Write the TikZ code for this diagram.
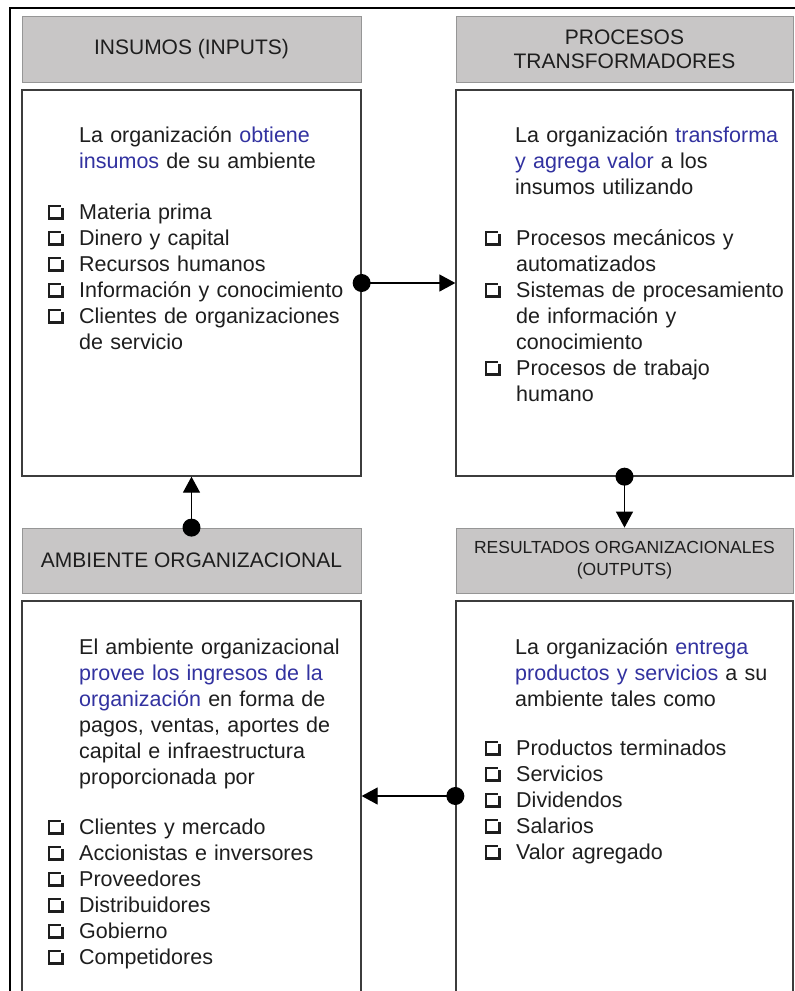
\documentclass[tikz,border=0pt]{standalone}
\usepackage{fontspec}
\setmainfont{Liberation Sans}
\usetikzlibrary{arrows.meta}
\definecolor{hdrfill}{RGB}{200,198,198}
\definecolor{hdrline}{RGB}{150,150,150}
\definecolor{boxline}{RGB}{60,60,60}
\definecolor{blu}{RGB}{50,50,160}
\definecolor{ink}{RGB}{30,30,30}
\newcommand\bl[1]{\textcolor{blu}{#1}}
\newcommand\chk{\makebox[31pt][l]{%
  \rlap{\rule[-0.5pt]{15.5pt}{3pt}}%
  \rlap{\rule[12pt]{13pt}{1.6pt}}%
  \rlap{\rule[0pt]{1.6pt}{13.6pt}}%
  \rlap{\hspace{12.3pt}\rule[-0.5pt]{3.2pt}{12pt}}}}
\newcommand\itm[1]{\hangindent=31pt\hangafter=1\noindent\chk#1\par}
\tikzset{
  hdr/.style={draw=hdrline, line width=0.8pt, fill=hdrfill, align=center, text=ink,
    font=\fontsize{21}{24}\selectfont, inner sep=0pt},
  cbox/.style={draw=boxline, line width=1.3pt, fill=white, inner sep=0pt},
  txt/.style={text width=320pt, align=left, inner sep=0pt, text=ink,
    font=\fontsize{21.5}{26}\selectfont, anchor=base west},
  conn/.style={line width=1.3pt, -{Triangle[length=16pt,width=17pt]}},
  dot/.style={fill=black}
}
\begin{document}
\begin{tikzpicture}[x=1pt,y=-1pt]
\useasboundingbox (0,0) rectangle (795,991);
\clip (0,0) rectangle (795,991);
\fill[white] (0,0) rectangle (795,991);
\draw[line width=2pt] (10,991) -- (10,8) -- (795,8);

% headers
\node[hdr, minimum width=339pt, minimum height=66pt] (h1) at (191.5,49) {INSUMOS (INPUTS)};
\node[hdr, minimum width=337pt, minimum height=66pt] (h2) at (624.5,49) {PROCESOS\\TRANSFORMADORES};
\node[hdr, minimum width=339pt, minimum height=65pt] (h3) at (191.5,560.5) {AMBIENTE ORGANIZACIONAL};
\node[hdr, minimum width=337pt, minimum height=65pt, font=\fontsize{17.5}{22}\selectfont] (h4) at (624.5,560.5) {RESULTADOS ORGANIZACIONALES\\(OUTPUTS)};

% content boxes
\node[cbox, minimum width=339pt, minimum height=386pt] (b1) at (191.5,283) {};
\node[cbox, minimum width=337pt, minimum height=386pt] (b2) at (624.5,283) {};
\node[cbox, minimum width=339pt, minimum height=420pt] (b3) at (191.5,811) {};
\node[cbox, minimum width=337pt, minimum height=420pt] (b4) at (624.5,811) {};

% box 1 text
\node[txt] (i1) at (79,142) {La organización \bl{obtiene}\newline \bl{insumos} de su ambiente};
\node[txt] (l1) at (48,219) {\itm{Materia prima}\itm{Dinero y capital}\itm{Recursos humanos}%
  \itm{Información y conocimiento}\itm{Clientes de organizaciones\newline de servicio}};

% box 2 text
\node[txt] (i2) at (515,142) {La organización \bl{transforma}\newline \bl{y agrega valor} a los\newline insumos utilizando};
\node[txt] (l2) at (485,245) {\itm{Procesos mecánicos y\newline automatizados}%
  \itm{Sistemas de procesamiento\newline de información y\newline conocimiento}%
  \itm{Procesos de trabajo\newline humano}};

% box 3 text
\node[txt] (i3) at (79,654) {El ambiente organizacional\newline \bl{provee los ingresos de la}\newline
  \bl{organización} en forma de\newline pagos, ventas, aportes de\newline capital e infraestructura\newline proporcionada por};
\node[txt] (l3) at (48,834) {\itm{Clientes y mercado}\itm{Accionistas e inversores}\itm{Proveedores}%
  \itm{Distribuidores}\itm{Gobierno}\itm{Competidores}};

% box 4 text
\node[txt] (i4) at (515,654) {La organización \bl{entrega}\newline \bl{productos y servicios} a su\newline ambiente tales como};
\node[txt] (l4) at (485,755) {\itm{Productos terminados}\itm{Servicios}\itm{Dividendos}\itm{Salarios}\itm{Valor agregado}};

% connectors
\coordinate (yy) at (0,796);
\coordinate (s4) at (b4.west |- yy);
\coordinate (e3) at (b3.east |- yy);
\draw[conn] (b1.east) -- (b2.west);
\fill[dot] (b1.east) circle (9pt);
\draw[conn] (b2.south) -- (h4.north);
\fill[dot] (b2.south) circle (9pt);
\draw[conn] (h3.north) -- (b1.south);
\fill[dot] (h3.north) circle (9pt);
\draw[conn] (s4) -- (e3);
\fill[dot] (s4) circle (9pt);
\end{tikzpicture}
\end{document}
